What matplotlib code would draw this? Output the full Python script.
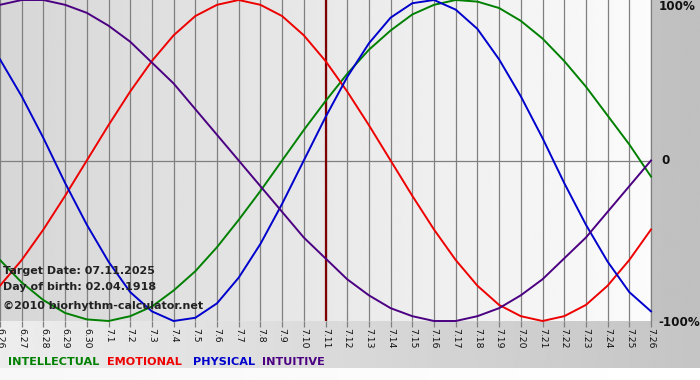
import numpy as np
import matplotlib
matplotlib.use("Agg")
import matplotlib.pyplot as plt

# days shown (6.26 .. 7.26), target day is 7.11
days = ["6.26", "6.27", "6.28", "6.29", "6.30"] + ["7.%d" % d for d in range(1, 27)]
target_idx = 15

# daily values (-1 .. 1)
intellectual = [-0.62, -0.76, -0.87, -0.95, -0.99, -1.00, -0.97, -0.91, -0.81, -0.69,
                -0.54, -0.37, -0.19, 0.00, 0.19, 0.37, 0.54, 0.69, 0.81, 0.91,
                0.97, 1.00, 0.99, 0.95, 0.87, 0.76, 0.62, 0.46, 0.28, 0.10, -0.10]
emotional = [-0.78, -0.62, -0.43, -0.22, 0.00, 0.22, 0.43, 0.62, 0.78, 0.90,
             0.97, 1.00, 0.97, 0.90, 0.78, 0.62, 0.43, 0.22, 0.00, -0.22,
             -0.43, -0.62, -0.78, -0.90, -0.97, -1.00, -0.97, -0.90, -0.78, -0.62, -0.43]
physical = [0.63, 0.40, 0.14, -0.14, -0.40, -0.63, -0.82, -0.94, -1.00, -0.98,
            -0.89, -0.73, -0.52, -0.27, 0.00, 0.27, 0.52, 0.73, 0.89, 0.98,
            1.00, 0.94, 0.82, 0.63, 0.40, 0.14, -0.14, -0.40, -0.63, -0.82, -0.94]
intuitive = [0.97, 1.00, 1.00, 0.97, 0.92, 0.84, 0.74, 0.61, 0.48, 0.32,
             0.16, 0.00, -0.16, -0.32, -0.48, -0.61, -0.74, -0.84, -0.92, -0.97,
             -1.00, -1.00, -0.97, -0.92, -0.84, -0.74, -0.61, -0.48, -0.32, -0.16, 0.00]

series = [("INTELLECTUAL", intellectual, "#008000"),
          ("EMOTIONAL", emotional, "#ee0000"),
          ("PHYSICAL", physical, "#0000cc"),
          ("INTUITIVE", intuitive, "#4b0082")]

W, H = 700, 380
fig = plt.figure(figsize=(W / 100, H / 100), dpi=100)

# background in pixel coords
bg = fig.add_axes([0, 0, 1, 1])
bg.set_xlim(0, W)
bg.set_ylim(H, 0)
bg.axis("off")

def hgrad(c0, c1):
    v = np.linspace(c0, c1, 256).reshape(1, -1)
    return v

# area under the plot (tick labels + legend)
bg.imshow(hgrad(0.93, 0.77), cmap="gray", vmin=0, vmax=1, aspect="auto",
          extent=[0, W, 368, 321])
# right panel
bg.imshow(hgrad(0.76, 0.75), cmap="gray", vmin=0, vmax=1, aspect="auto",
          extent=[651, W, 321, 0])
# bottom strip
bg.imshow(hgrad(0.97, 1.0), cmap="gray", vmin=0, vmax=1, aspect="auto",
          extent=[0, W, H, 368])

ax = fig.add_axes([0, (H - 321) / H, 651 / W, 321 / H])
x = np.arange(len(days))
ax.set_xlim(0, len(days) - 1)
ax.set_ylim(-1, 1)
ax.imshow(hgrad(0.84, 0.985), cmap="gray", vmin=0, vmax=1, aspect="auto",
          extent=[0, len(days) - 1, -1, 1], zorder=0)

for xi in x:
    ax.axvline(xi, color="#808080", lw=0.9, zorder=1)
ax.axhline(0, color="#808080", lw=0.9, zorder=1)
ax.axvline(target_idx, color="#800000", lw=1.6, zorder=2)

for name, vals, col in series:
    ax.plot(x, vals, color=col, lw=1.4, zorder=3, clip_on=False)

for s in ["top", "bottom", "left"]:
    ax.spines[s].set_visible(False)
ax.spines["right"].set_color("#808080")
ax.spines["right"].set_linewidth(0.9)

ax.set_yticks([])
ax.set_xticks(x)
ax.set_xticklabels(days, rotation=270, fontsize=6.7, color="#111111")
ax.tick_params(axis="x", length=4, width=0.9, color="#808080", pad=1)

tf = dict(fontsize=8.0, fontweight="bold", color="#222222", va="center", ha="left")
fig.text(3 / W, 1 - 271 / H, "Target Date: 07.11.2025", **tf)
fig.text(3 / W, 1 - 287 / H, "Day of birth: 02.04.1918", **tf)
fig.text(3 / W, 1 - 306 / H, "\u00a92010 biorhythm-calculator.net", **tf)

rf = dict(fontsize=8.6, fontweight="bold", color="#111111", va="center", ha="left")
fig.text(659 / W, 1 - 7 / H, "100%", **rf)
fig.text(661 / W, 1 - 161 / H, "0", **rf)
fig.text(658 / W, 1 - 322 / H, "-100%", **rf)

lx = [8, 107, 193, 262]
for (name, vals, col), px in zip(series, lx):
    fig.text(px / W, 1 - 362 / H, name, fontsize=8.1, fontweight="bold",
             color=col, va="center", ha="left")

fig.savefig("out.png", dpi=100)
